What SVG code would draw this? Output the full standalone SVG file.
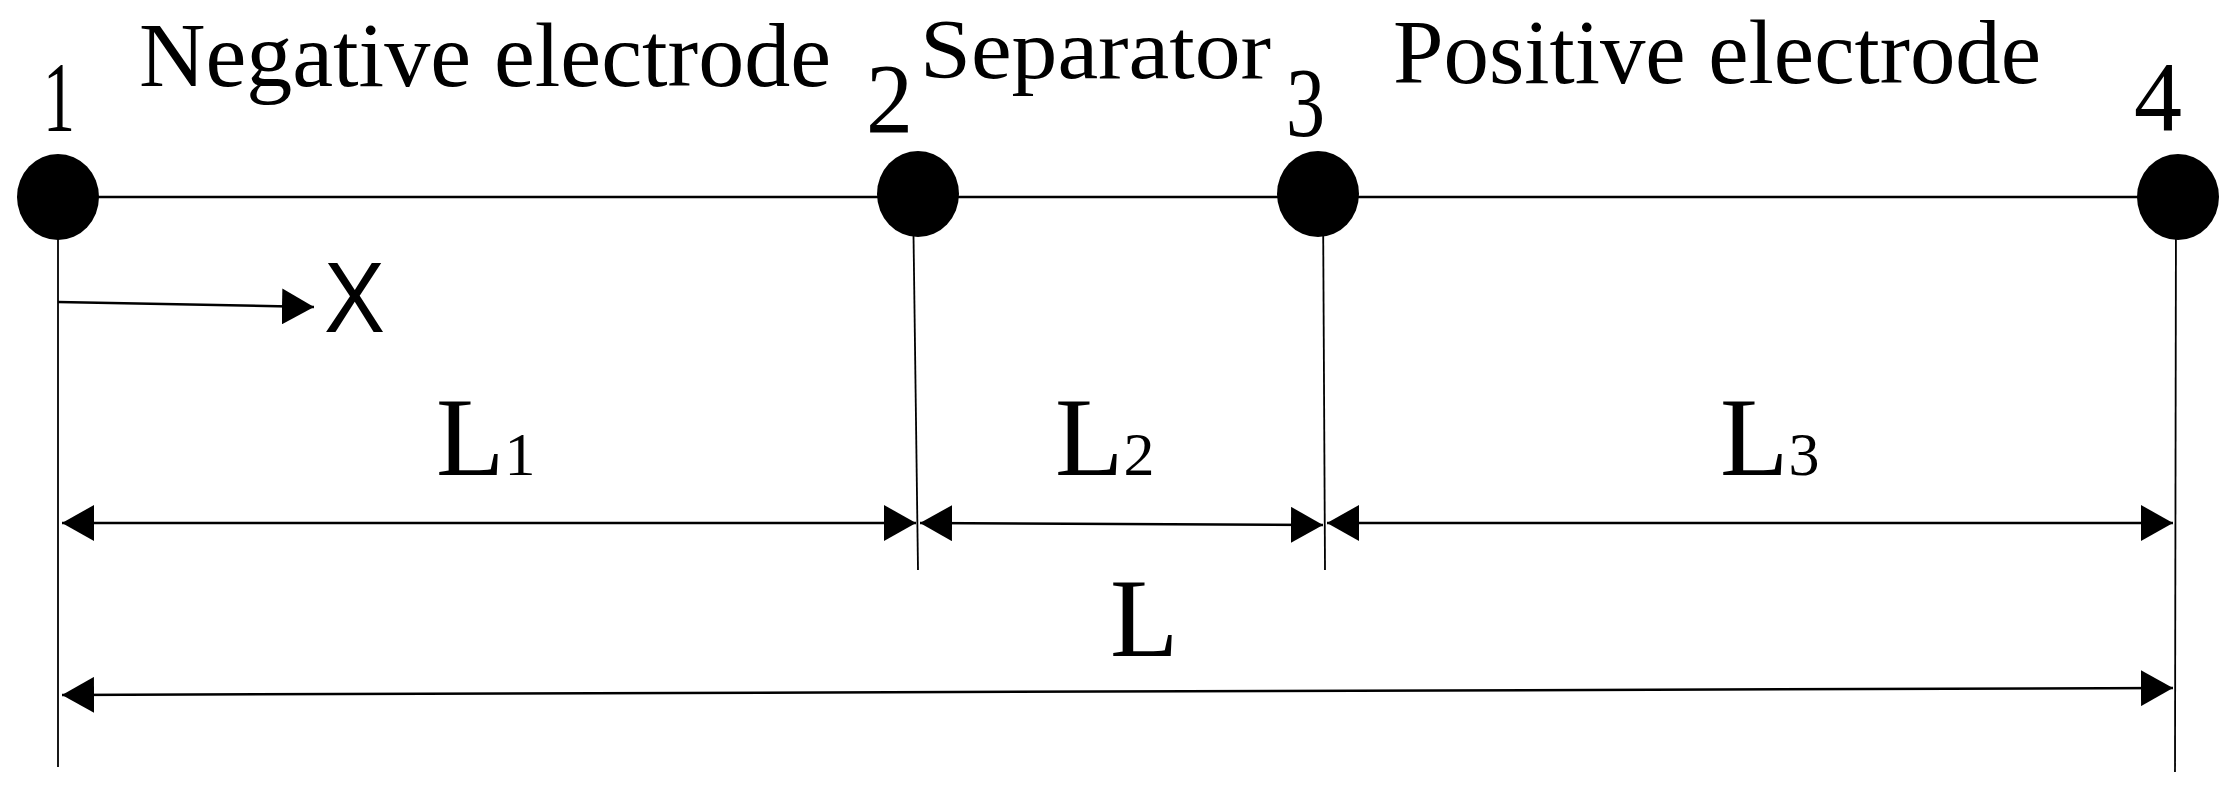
<svg xmlns="http://www.w3.org/2000/svg" width="2236" height="791" viewBox="0 0 2236 791">
<style>
.s{font-family:"Liberation Serif","Times New Roman",serif;fill:#000}
.ln{stroke:#000;stroke-width:2.5;fill:none}
.th{stroke:#000;stroke-width:1.8;fill:none}
</style>
<defs>
<marker id="a" viewBox="0 0 32 36" refX="32" refY="18" markerWidth="32" markerHeight="36" markerUnits="userSpaceOnUse" orient="auto-start-reverse"><path d="M0,0L32,18L0,36Z" fill="#000"/></marker>
</defs>
<rect width="2236" height="791" fill="#fff"/>
<g id="connectors">
<line class="ln" x1="58" y1="197" x2="2178" y2="197"/>
<line class="th" x1="58" y1="197" x2="58" y2="767"/>
<line class="th" x1="913" y1="197" x2="918" y2="570"/>
<line class="th" x1="1323" y1="197" x2="1325" y2="570"/>
<line class="th" x1="2176" y1="197" x2="2175" y2="772"/>
<line class="ln" x1="58" y1="302" x2="314" y2="307" marker-end="url(#a)"/>
<line class="ln" x1="62" y1="523" x2="916" y2="523" marker-start="url(#a)" marker-end="url(#a)"/>
<line class="ln" x1="920" y1="523" x2="1323" y2="525" marker-start="url(#a)" marker-end="url(#a)"/>
<line class="ln" x1="1327" y1="523" x2="2173" y2="523" marker-start="url(#a)" marker-end="url(#a)"/>
<line class="ln" x1="62" y1="695" x2="2173" y2="688" marker-start="url(#a)" marker-end="url(#a)"/>
</g>
<g id="n1"><ellipse cx="58" cy="197" rx="41" ry="43"/><text class="s" x="43" y="131" font-size="100" textLength="32" lengthAdjust="spacingAndGlyphs">1</text></g>
<g id="n2"><ellipse cx="918" cy="194" rx="41" ry="43"/><text class="s" x="866" y="132" font-size="100" textLength="47" lengthAdjust="spacingAndGlyphs">2</text></g>
<g id="n3"><ellipse cx="1318" cy="194" rx="41" ry="43"/><text class="s" x="1286" y="136" font-size="100" textLength="39" lengthAdjust="spacingAndGlyphs">3</text></g>
<g id="n4"><ellipse cx="2178" cy="197" rx="41" ry="43"/><text class="s" x="2134" y="130" font-size="100" textLength="48" lengthAdjust="spacingAndGlyphs">4</text></g>
<g id="labels">
<text class="s" x="139" y="86" font-size="92" textLength="692" lengthAdjust="spacingAndGlyphs">Negative electrode</text>
<text class="s" x="920" y="78" font-size="84" textLength="351" lengthAdjust="spacingAndGlyphs">Separator</text>
<text class="s" x="1393" y="83" font-size="92" textLength="648" lengthAdjust="spacingAndGlyphs">Positive electrode</text>
<text x="324" y="332" font-family="Liberation Sans,Arial,sans-serif" font-size="100" textLength="61" lengthAdjust="spacingAndGlyphs">X</text>
<text class="s" x="436" y="475" font-size="112">L<tspan font-size="62">1</tspan></text>
<text class="s" x="1055" y="475" font-size="112">L<tspan font-size="62">2</tspan></text>
<text class="s" x="1720" y="475" font-size="112">L<tspan font-size="62">3</tspan></text>
<text class="s" x="1110" y="656" font-size="112">L</text>
</g>
</svg>
